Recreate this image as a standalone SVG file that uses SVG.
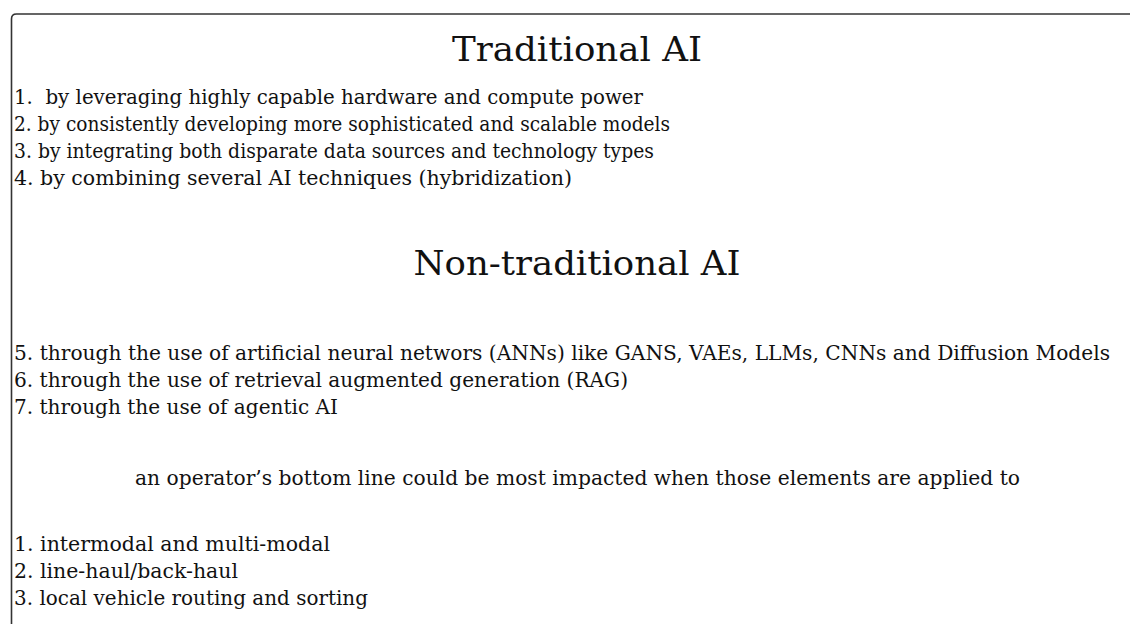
<svg xmlns="http://www.w3.org/2000/svg" width="1130" height="624" viewBox="0 0 1130 624">
<style>
.t{font-family:"DejaVu Serif","Liberation Serif",serif;fill:#111;}
.h{font-size:34px;text-anchor:middle;}
.l{font-size:20px;white-space:pre;}
.c{font-size:20px;text-anchor:middle;}
</style>
<rect x="0" y="0" width="1130" height="624" fill="#fff"/>
<g id="frame">
<path d="M11.5,640 V19 Q11.5,14 16.5,14 H1140" fill="none" stroke="#333" stroke-width="1.6"/>
</g>
<g id="traditional">
<text class="t h" x="577" y="61" textLength="250" lengthAdjust="spacingAndGlyphs">Traditional AI</text>
<text class="t l" x="14" y="104" textLength="629" lengthAdjust="spacingAndGlyphs">1.  by leveraging highly capable hardware and compute power</text>
<text class="t l" x="14" y="131" textLength="656" lengthAdjust="spacingAndGlyphs">2. by consistently developing more sophisticated and scalable models</text>
<text class="t l" x="14" y="158" textLength="640" lengthAdjust="spacingAndGlyphs">3. by integrating both disparate data sources and technology types</text>
<text class="t l" x="14" y="185" textLength="558" lengthAdjust="spacingAndGlyphs">4. by combining several AI techniques (hybridization)</text>
</g>
<g id="nontraditional">
<text class="t h" x="577" y="275" textLength="327" lengthAdjust="spacingAndGlyphs">Non-traditional AI</text>
<text class="t l" x="14" y="360" textLength="1096" lengthAdjust="spacingAndGlyphs">5. through the use of artificial neural networs (ANNs) like GANS, VAEs, LLMs, CNNs and Diffusion Models</text>
<text class="t l" x="14" y="387" textLength="614" lengthAdjust="spacingAndGlyphs">6. through the use of retrieval augmented generation (RAG)</text>
<text class="t l" x="14" y="414" textLength="324" lengthAdjust="spacingAndGlyphs">7. through the use of agentic AI</text>
</g>
<g id="impact">
<text class="t c" x="577.5" y="485" textLength="885" lengthAdjust="spacingAndGlyphs">an operator’s bottom line could be most impacted when those elements are applied to</text>
<text class="t l" x="14" y="551" textLength="316" lengthAdjust="spacingAndGlyphs">1. intermodal and multi-modal</text>
<text class="t l" x="14" y="578" textLength="224" lengthAdjust="spacingAndGlyphs">2. line-haul/back-haul</text>
<text class="t l" x="14" y="605" textLength="354" lengthAdjust="spacingAndGlyphs">3. local vehicle routing and sorting</text>
</g>
</svg>
